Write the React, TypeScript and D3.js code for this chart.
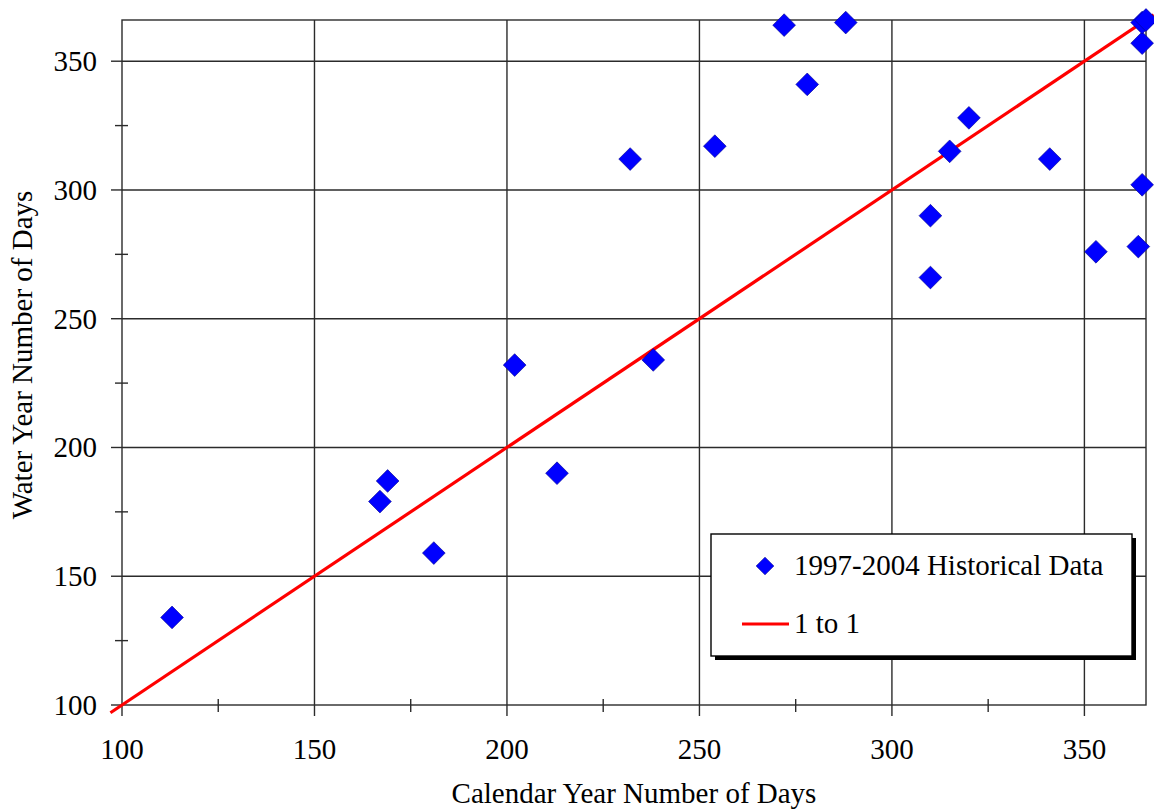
import * as d3 from "d3";
import React, { useEffect, useRef } from "react";

// calendar-year days vs water-year days, 1997-2004
const calendarDays = [113, 167, 169, 181, 202, 213, 238, 232, 254, 272, 278, 288, 320, 315, 341, 310, 310, 353, 364, 365, 365, 365, 366];
const waterDays = [134, 179, 187, 159, 232, 190, 234, 312, 317, 364, 341, 365, 328, 315, 312, 290, 266, 276, 278, 302, 357, 365, 366];
const oneToOne = [97, 368];
const majorTicks = [100, 150, 200, 250, 300, 350];
const minorTicks = [125, 175, 225, 275, 325];
const seriesNames = ["1997-2004 Historical Data", "1 to 1"];

const FONT = "'Liberation Serif', 'Times New Roman', serif";

export default function App() {
  const ref = useRef<SVGSVGElement>(null);

  useEffect(() => {
    const width = 1154,
      height = 812;
    const margin = { top: 20, right: 8, bottom: 107, left: 122 };

    const svg = d3.select(ref.current);
    svg.selectAll("*").remove();

    const x = d3.scaleLinear().domain([100, 366]).range([margin.left, width - margin.right]);
    const y = d3.scaleLinear().domain([100, 366]).range([height - margin.bottom, margin.top]);

    const grid = "#2b2b2b";

    // gridlines
    svg.append("g")
      .selectAll("line")
      .data(majorTicks.slice(1))
      .enter().append("line")
      .attr("x1", (d) => x(d)).attr("x2", (d) => x(d))
      .attr("y1", y(366)).attr("y2", y(100))
      .attr("stroke", grid).attr("stroke-width", 1.4);
    svg.append("g")
      .selectAll("line")
      .data(majorTicks.slice(1))
      .enter().append("line")
      .attr("y1", (d) => y(d)).attr("y2", (d) => y(d))
      .attr("x1", x(100)).attr("x2", x(366))
      .attr("stroke", grid).attr("stroke-width", 1.4);

    // frame
    svg.append("rect")
      .attr("x", x(100)).attr("y", y(366))
      .attr("width", x(366) - x(100)).attr("height", y(100) - y(366))
      .attr("fill", "none").attr("stroke", grid).attr("stroke-width", 1.4);

    // ticks
    const tk = svg.append("g").attr("stroke", grid).attr("stroke-width", 1.4);
    majorTicks.forEach((t) => {
      tk.append("line").attr("x1", x(t)).attr("x2", x(t)).attr("y1", y(100)).attr("y2", y(100) + 11);
      tk.append("line").attr("y1", y(t)).attr("y2", y(t)).attr("x1", x(100) - 11).attr("x2", x(100));
    });
    minorTicks.forEach((t) => {
      tk.append("line").attr("x1", x(t)).attr("x2", x(t)).attr("y1", y(100) - 6).attr("y2", y(100) + 7);
      tk.append("line").attr("y1", y(t)).attr("y2", y(t)).attr("x1", x(100) - 7).attr("x2", x(100) + 6);
    });

    // tick labels
    svg.append("g")
      .selectAll("text")
      .data(majorTicks)
      .enter().append("text")
      .attr("x", (d) => x(d))
      .attr("y", y(100) + 54)
      .attr("text-anchor", "middle")
      .attr("font-family", FONT).attr("font-size", "29px")
      .text((d) => d);
    svg.append("g")
      .selectAll("text")
      .data(majorTicks)
      .enter().append("text")
      .attr("x", x(100) - 25)
      .attr("y", (d) => y(d) + 10)
      .attr("text-anchor", "end")
      .attr("font-family", FONT).attr("font-size", "29px")
      .text((d) => d);

    // axis titles
    svg.append("text")
      .attr("x", (x(100) + x(366)) / 2)
      .attr("y", 803)
      .attr("text-anchor", "middle")
      .attr("font-family", FONT).attr("font-size", "29px")
      .text("Calendar Year Number of Days");
    svg.append("text")
      .attr("transform", "translate(32," + 355 + ") rotate(-90)")
      .attr("text-anchor", "middle")
      .attr("font-family", FONT).attr("font-size", "29px")
      .text("Water Year Number of Days");

    // 1 to 1 line
    svg.append("line")
      .attr("x1", x(oneToOne[0])).attr("y1", y(oneToOne[0]))
      .attr("x2", x(oneToOne[1])).attr("y2", y(oneToOne[1]))
      .attr("stroke", "#ff0000").attr("stroke-width", 3.2);

    // diamonds
    const diamond = d3.symbol().type(d3.symbolDiamond2).size(330);
    svg.append("g")
      .selectAll("path")
      .data(calendarDays)
      .enter().append("path")
      .attr("d", diamond)
      .attr("transform", (d, i) => "translate(" + x(d) + "," + y(waterDays[i]) + ") rotate(0)")
      .attr("fill", "#0000ff")
      .attr("stroke", "#00008b")
      .attr("stroke-width", 0.6);

    // legend
    const lg = svg.append("g");
    lg.append("rect").attr("x", 715).attr("y", 538).attr("width", 421).attr("height", 122).attr("fill", "#000");
    lg.append("rect").attr("x", 711).attr("y", 534).attr("width", 421).attr("height", 122)
      .attr("fill", "#fff").attr("stroke", "#000").attr("stroke-width", 1.4);
    lg.append("path")
      .attr("d", d3.symbol().type(d3.symbolDiamond2).size(200))
      .attr("transform", "translate(765,566)")
      .attr("fill", "#0000ff").attr("stroke", "#00008b").attr("stroke-width", 0.6);
    lg.append("line").attr("x1", 742).attr("x2", 789).attr("y1", 624).attr("y2", 624)
      .attr("stroke", "#ff0000").attr("stroke-width", 3.2);
    lg.selectAll("text.lab")
      .data(seriesNames)
      .enter().append("text")
      .attr("class", "lab")
      .attr("x", 794)
      .attr("y", (d, i) => 575 + i * 58)
      .attr("font-family", FONT).attr("font-size", "29px")
      .text((d) => d);
  }, []);

  return (
    <svg
      ref={ref}
      width={1154}
      height={812}
      style={{ position: "absolute", left: 0, top: 0, background: "#fff" }}
    />
  );
}
